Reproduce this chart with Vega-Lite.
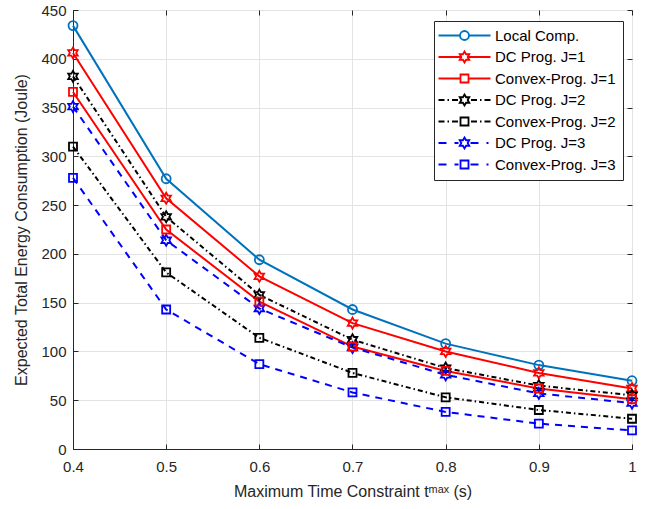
{
  "$schema": "https://vega.github.io/schema/vega-lite/v6.json",
  "width": 559,
  "height": 439,
  "autosize": {"type": "none"},
  "padding": {"left": 73, "top": 10, "right": 22, "bottom": 60},
  "background": "white",
  "config": {
    "view": {"stroke": "#262626", "strokeWidth": 1},
    "font": "Liberation Sans",
    "axis": {
      "labelFont": "Liberation Sans",
      "titleFont": "Liberation Sans",
      "labelFontSize": 15,
      "titleFontSize": 16,
      "titleFontWeight": "normal",
      "labelColor": "#262626",
      "titleColor": "#262626",
      "domainColor": "#262626",
      "tickColor": "#262626",
      "gridColor": "#e3e3e3",
      "tickSize": -5,
      "labelFlush": false,
      "labelOverlap": false
    }
  },
  "data": {
    "values": [
      {"t": 0.4, "E": 434, "s": "Local Comp."},
      {"t": 0.5, "E": 277, "s": "Local Comp."},
      {"t": 0.6, "E": 194, "s": "Local Comp."},
      {"t": 0.7, "E": 143, "s": "Local Comp."},
      {"t": 0.8, "E": 108, "s": "Local Comp."},
      {"t": 0.9, "E": 86, "s": "Local Comp."},
      {"t": 1.0, "E": 70, "s": "Local Comp."},
      {"t": 0.4, "E": 406, "s": "DC Prog. J=1"},
      {"t": 0.5, "E": 257, "s": "DC Prog. J=1"},
      {"t": 0.6, "E": 177, "s": "DC Prog. J=1"},
      {"t": 0.7, "E": 129, "s": "DC Prog. J=1"},
      {"t": 0.8, "E": 100, "s": "DC Prog. J=1"},
      {"t": 0.9, "E": 78, "s": "DC Prog. J=1"},
      {"t": 1.0, "E": 62, "s": "DC Prog. J=1"},
      {"t": 0.4, "E": 366, "s": "Convex-Prog. J=1"},
      {"t": 0.5, "E": 225, "s": "Convex-Prog. J=1"},
      {"t": 0.6, "E": 151, "s": "Convex-Prog. J=1"},
      {"t": 0.7, "E": 105, "s": "Convex-Prog. J=1"},
      {"t": 0.8, "E": 80, "s": "Convex-Prog. J=1"},
      {"t": 0.9, "E": 62, "s": "Convex-Prog. J=1"},
      {"t": 1.0, "E": 51, "s": "Convex-Prog. J=1"},
      {"t": 0.4, "E": 382, "s": "DC Prog. J=2"},
      {"t": 0.5, "E": 238, "s": "DC Prog. J=2"},
      {"t": 0.6, "E": 158, "s": "DC Prog. J=2"},
      {"t": 0.7, "E": 112, "s": "DC Prog. J=2"},
      {"t": 0.8, "E": 83, "s": "DC Prog. J=2"},
      {"t": 0.9, "E": 65, "s": "DC Prog. J=2"},
      {"t": 1.0, "E": 55, "s": "DC Prog. J=2"},
      {"t": 0.4, "E": 310, "s": "Convex-Prog. J=2"},
      {"t": 0.5, "E": 181, "s": "Convex-Prog. J=2"},
      {"t": 0.6, "E": 114, "s": "Convex-Prog. J=2"},
      {"t": 0.7, "E": 78, "s": "Convex-Prog. J=2"},
      {"t": 0.8, "E": 53, "s": "Convex-Prog. J=2"},
      {"t": 0.9, "E": 40, "s": "Convex-Prog. J=2"},
      {"t": 1.0, "E": 31, "s": "Convex-Prog. J=2"},
      {"t": 0.4, "E": 351, "s": "DC Prog. J=3"},
      {"t": 0.5, "E": 214, "s": "DC Prog. J=3"},
      {"t": 0.6, "E": 144, "s": "DC Prog. J=3"},
      {"t": 0.7, "E": 104, "s": "DC Prog. J=3"},
      {"t": 0.8, "E": 76, "s": "DC Prog. J=3"},
      {"t": 0.9, "E": 57, "s": "DC Prog. J=3"},
      {"t": 1.0, "E": 47, "s": "DC Prog. J=3"},
      {"t": 0.4, "E": 278, "s": "Convex-Prog. J=3"},
      {"t": 0.5, "E": 143, "s": "Convex-Prog. J=3"},
      {"t": 0.6, "E": 87, "s": "Convex-Prog. J=3"},
      {"t": 0.7, "E": 58, "s": "Convex-Prog. J=3"},
      {"t": 0.8, "E": 38, "s": "Convex-Prog. J=3"},
      {"t": 0.9, "E": 26, "s": "Convex-Prog. J=3"},
      {"t": 1.0, "E": 19, "s": "Convex-Prog. J=3"}
    ]
  },
  "resolve": {"axis": {"x": "independent", "y": "independent"}},
  "layer": [
    {
      "transform": [{"filter": {"field": "s", "oneOf": ["Local Comp.", "DC Prog. J=1", "Convex-Prog. J=1"]}}],
      "mark": {"type": "line", "strokeWidth": 2},
      "encoding": {
        "x": {
          "field": "t", "type": "quantitative",
          "scale": {"domain": [0.4, 1], "nice": false},
          "axis": {
            "values": [0.4, 0.5, 0.6, 0.7, 0.8, 0.9, 1],
            "format": "~g",
            "grid": true,
            "labelPadding": 15,
            "title": "Maximum Time Constraint tᵐᵃˣ (s)",
            "titlePadding": 9
          }
        },
        "y": {
          "field": "E", "type": "quantitative",
          "scale": {"domain": [0, 450], "nice": false},
          "axis": {
            "values": [0, 50, 100, 150, 200, 250, 300, 350, 400, 450],
            "grid": true,
            "labelPadding": 12,
            "title": "Expected Total Energy Consumption (Joule)",
            "titlePadding": 11
          }
        },
        "color": {
          "field": "s", "type": "nominal",
          "scale": {
            "domain": ["Local Comp.", "DC Prog. J=1", "Convex-Prog. J=1", "DC Prog. J=2", "Convex-Prog. J=2", "DC Prog. J=3", "Convex-Prog. J=3"],
            "range": ["#0072BD", "#FF0000", "#FF0000", "#000000", "#000000", "#0000FF", "#0000FF"]
          },
          "legend": {
            "orient": "none",
            "legendX": 361,
            "legendY": 11,
            "title": null,
            "padding": 7,
            "rowPadding": 3.5,
            "symbolOffset": 16,
            "labelOffset": 23,
            "strokeColor": "#262626",
            "fillColor": "white",
            "cornerRadius": 0,
            "labelFont": "Liberation Sans",
            "labelFontSize": 15,
            "labelColor": "#000000",
            "labelLimit": 400,
            "symbolSize": 100,
            "symbolStrokeWidth": 1.8,
            "symbolFillColor": "transparent",
            "encode": {
              "symbols": {
                "update": {
                  "fill": {"value": "transparent"},
                  "shape": {"signal": "datum.value === 'Local Comp.' ? 'M-5.2,0H-0.9M0.9,0H5.2M-0.9,0A0.9,0.9,0,1,1,0.9,0A0.9,0.9,0,1,1,-0.9,0Z' : datum.value === 'DC Prog. J=1' ? 'M-5.2,0H-0.64M0.64,0H5.2M0,-1.1L0.318,-0.55L0.953,-0.55L0.635,0L0.953,0.55L0.318,0.55L0,1.1L-0.318,0.55L-0.953,0.55L-0.635,0L-0.953,-0.55L-0.318,-0.55Z' : datum.value === 'Convex-Prog. J=1' ? 'M-5.2,0H-0.8M0.8,0H5.2M-0.8,-0.8H0.8V0.8H-0.8Z' : datum.value === 'DC Prog. J=2' ? 'M-5.2,0H-4M-3.4,0H-3.1M-2.5,0H-1.3M1.3,0H2.5M3.1,0H3.4M4,0H5.2M0,-1.1L0.318,-0.55L0.953,-0.55L0.635,0L0.953,0.55L0.318,0.55L0,1.1L-0.318,0.55L-0.953,0.55L-0.635,0L-0.953,-0.55L-0.318,-0.55Z' : datum.value === 'Convex-Prog. J=2' ? 'M-5.2,0H-4M-3.4,0H-3.1M-2.5,0H-1.3M1.3,0H2.5M3.1,0H3.4M4,0H5.2M-0.8,-0.8H0.8V0.8H-0.8Z' : datum.value === 'DC Prog. J=3' ? 'M-5.2,0H-3.6M-2,0H-1.2M1.2,0H2.8M4.4,0H4.8M0,-1.1L0.318,-0.55L0.953,-0.55L0.635,0L0.953,0.55L0.318,0.55L0,1.1L-0.318,0.55L-0.953,0.55L-0.635,0L-0.953,-0.55L-0.318,-0.55Z' : 'M-5.2,0H-3.6M-2,0H-1.2M1.2,0H2.8M4.4,0H4.8M-0.8,-0.8H0.8V0.8H-0.8Z'"}
                }
              }
            }
          }
        }
      }
    },
    {
      "transform": [{"filter": {"field": "s", "oneOf": ["DC Prog. J=2", "Convex-Prog. J=2"]}}],
      "mark": {"type": "line", "strokeWidth": 2, "strokeDash": [5, 3, 1.5, 3]},
      "encoding": {
        "x": {"field": "t", "type": "quantitative", "axis": null},
        "y": {"field": "E", "type": "quantitative", "axis": null},
        "color": {"field": "s", "type": "nominal", "legend": null}
      }
    },
    {
      "transform": [{"filter": {"field": "s", "oneOf": ["DC Prog. J=3", "Convex-Prog. J=3"]}}],
      "mark": {"type": "line", "strokeWidth": 2, "strokeDash": [7, 6]},
      "encoding": {
        "x": {"field": "t", "type": "quantitative", "axis": null},
        "y": {"field": "E", "type": "quantitative", "axis": null},
        "color": {"field": "s", "type": "nominal", "legend": null}
      }
    },
    {
      "transform": [{"filter": {"field": "s", "equal": "Local Comp."}}],
      "mark": {"type": "point", "filled": false, "strokeWidth": 1.8, "size": 100, "opacity": 1, "shape": "M-0.9,0A0.9,0.9,0,1,1,0.9,0A0.9,0.9,0,1,1,-0.9,0Z"},
      "encoding": {
        "x": {"field": "t", "type": "quantitative", "axis": null},
        "y": {"field": "E", "type": "quantitative", "axis": null},
        "color": {"field": "s", "type": "nominal", "legend": null}
      }
    },
    {
      "transform": [{"filter": {"field": "s", "oneOf": ["DC Prog. J=1", "DC Prog. J=2", "DC Prog. J=3"]}}],
      "mark": {"type": "point", "filled": false, "strokeWidth": 1.8, "size": 100, "opacity": 1, "shape": "M0,-1.1L0.318,-0.55L0.953,-0.55L0.635,0L0.953,0.55L0.318,0.55L0,1.1L-0.318,0.55L-0.953,0.55L-0.635,0L-0.953,-0.55L-0.318,-0.55Z"},
      "encoding": {
        "x": {"field": "t", "type": "quantitative", "axis": null},
        "y": {"field": "E", "type": "quantitative", "axis": null},
        "color": {"field": "s", "type": "nominal", "legend": null}
      }
    },
    {
      "transform": [{"filter": {"field": "s", "oneOf": ["Convex-Prog. J=1", "Convex-Prog. J=2", "Convex-Prog. J=3"]}}],
      "mark": {"type": "point", "filled": false, "strokeWidth": 1.8, "size": 100, "opacity": 1, "shape": "M-0.8,-0.8H0.8V0.8H-0.8Z"},
      "encoding": {
        "x": {
          "field": "t", "type": "quantitative",
          "axis": {
            "orient": "top",
            "values": [0.4, 0.5, 0.6, 0.7, 0.8, 0.9, 1],
            "labels": false, "grid": false, "domain": false, "title": null
          }
        },
        "y": {
          "field": "E", "type": "quantitative",
          "axis": {
            "orient": "right",
            "values": [0, 50, 100, 150, 200, 250, 300, 350, 400, 450],
            "labels": false, "grid": false, "domain": false, "title": null
          }
        },
        "color": {"field": "s", "type": "nominal", "legend": null}
      }
    }
  ]
}
